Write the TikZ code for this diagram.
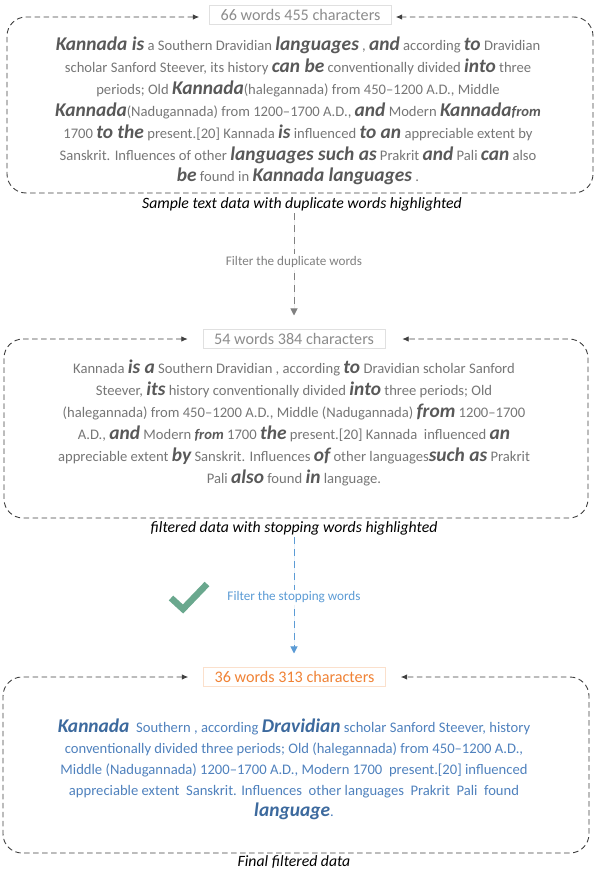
\documentclass[tikz,border=0pt]{standalone}
\usepackage{fontspec}
\setmainfont{Carlito}
\usetikzlibrary{arrows.meta}
\definecolor{txtgray}{HTML}{767676}
\definecolor{hlgray}{HTML}{595959}
\definecolor{lblgray}{HTML}{8C8C8C}
\definecolor{lblborder}{HTML}{E0E0E0}
\definecolor{txtblue}{HTML}{4F81BD}
\definecolor{hlblue}{HTML}{3D6A9E}
\definecolor{orng}{HTML}{F08235}
\definecolor{orngborder}{HTML}{FBE0CC}
\definecolor{arrblue}{HTML}{5B9BD5}
\definecolor{arrgray}{HTML}{808080}
\definecolor{chkgreen}{HTML}{6AA88E}
\definecolor{framecol}{HTML}{404040}
\newcommand\hlg[1]{{\fontsize{19.5}{19.5}\selectfont\bfseries\itshape\color{hlgray}#1}}
\newcommand\hls[1]{{\bfseries\itshape\color{hlgray}#1}}
\newcommand\hlb[1]{{\fontsize{19.5}{19.5}\selectfont\bfseries\itshape\color{hlblue}#1}}
\begin{document}
\begin{tikzpicture}[x=1bp,y=-1bp,
  lbl/.style={draw=lblborder, line width=0.7bp, fill=white, inner xsep=11bp, inner ysep=3.5bp,
    font=\fontsize{16.2}{18}\selectfont, text=lblgray},
  frame/.style={draw=framecol, line width=0.9bp, dash pattern=on 5.5bp off 3.5bp,
    rounded corners=19bp, {Latex[length=6.5bp,width=5.5bp]}-{Latex[length=6.5bp,width=5.5bp]}},
  body/.style={align=center, font=\fontsize{14.67}{22}\selectfont, text=txtgray, inner sep=0pt},
  captxt/.style={font=\fontsize{15.8}{18}\selectfont\itshape, text=black, inner sep=0pt},
  flow/.style={dash pattern=on 7bp off 5bp, line width=1bp, -{Triangle[length=7bp,width=7bp]}},
  flowlbl/.style={fill=white, inner sep=2bp, font=\fontsize{13.2}{15}\selectfont}
]
\useasboundingbox (0,0) rectangle (595,881);

% ---------- block 1 ----------
\node[lbl] (lab1) at (300.5,15) {66 words 455 characters};
\node[body] (t1) at (298,111) {%
\hlg{Kannada is} a Southern Dravidian \hlg{languages} , \hlg{and} according \hlg{to} Dravidian\\
scholar Sanford Steever, its history \hlg{can be} conventionally divided \hlg{into} three\\
periods; Old \hlg{Kannada}(halegannada) from 450–1200 A.D., Middle\\
\hlg{Kannada}(Nadugannada) from 1200–1700 A.D., \hlg{and} Modern \hlg{Kannada}\hls{from}\\
1700 \hlg{to the} present.[20] Kannada \hlg{is} influenced \hlg{to an} appreciable extent by\\
Sanskrit. Influences of other \hlg{languages such as} Prakrit \hlg{and} Pali \hlg{can} also\\
\hlg{be} found in \hlg{Kannada languages} .};
\draw[frame] ([xshift=-10bp]lab1.west |- 0,17) -- (7,17) -- (7,193) -- (593,193) -- (593,17)
  -- ([xshift=4bp]lab1.east |- 0,17);
\node[captxt] (c1) at (302,204) {Sample text data with duplicate words highlighted};

% ---------- block 2 ----------
\node[lbl] (lab2) at (294,339) {54 words 384 characters};
\node[body] (t2) at (294,423) {%
Kannada \hlg{is a} Southern Dravidian , according \hlg{to} Dravidian scholar Sanford\\
Steever, \hlg{its} history conventionally divided \hlg{into} three periods; Old\\
(halegannada) from 450–1200 A.D., Middle (Nadugannada) \hlg{from} 1200–1700\\
A.D., \hlg{and} Modern \hls{from} 1700 \hlg{the} present.[20] Kannada\ \ influenced \hlg{an}\\
appreciable extent \hlg{by} Sanskrit. Influences \hlg{of} other languages\hlg{such as} Prakrit\\
Pali \hlg{also} found \hlg{in} language.};
\draw[frame] ([xshift=-15bp]lab2.west |- 0,339) -- (4,339) -- (4,518) -- (588,518) -- (588,339)
  -- ([xshift=17bp]lab2.east |- 0,339);
\node[captxt] (c2) at (294,528) {filtered data with stopping words highlighted};

% ---------- block 3 ----------
\node[lbl, draw=orngborder, text=orng] (lab3) at (294.5,677) {36 words 313 characters};
\node[body, text=txtblue, font=\fontsize{14.67}{21}\selectfont] (t3) at (294,769) {%
\hlb{Kannada}\ \ Southern , according \hlb{Dravidian} scholar Sanford Steever, history\\
conventionally divided three periods; Old (halegannada) from 450–1200 A.D.,\\
Middle (Nadugannada) 1200–1700 A.D., Modern 1700\ \ present.[20] influenced\\
appreciable extent\ \ Sanskrit. Influences\ \ other languages\ \ Prakrit\ \ Pali\ \ found\\
\hlb{language}.};
\draw[frame] ([xshift=-15bp]lab3.west |- 0,677) -- (3,677) -- (3,853) -- (589,853) -- (589,677)
  -- ([xshift=15bp]lab3.east |- 0,677);
\node[captxt] (c3) at (294,862) {Final filtered data};

% ---------- flow arrows ----------
\draw[flow, draw=arrgray, fill=arrgray, shorten <=2bp, shorten >=14bp] (c1.south -| 294,0) -- node[flowlbl, pos=0.43, text=arrgray] (f1) {Filter the duplicate words} (lab2.north -| 294,0);
\draw[flow, draw=arrblue, fill=arrblue, shorten <=2bp, shorten >=14bp] (c2.south -| 294,0) -- node[flowlbl, pos=0.47, text=arrblue] (f2) {Filter the stopping words} (lab3.north -| 294,0);

% check mark
\draw[chkgreen, line width=6.5bp] (171,598) -- (183,609) -- (207,584);
\end{tikzpicture}
\end{document}
